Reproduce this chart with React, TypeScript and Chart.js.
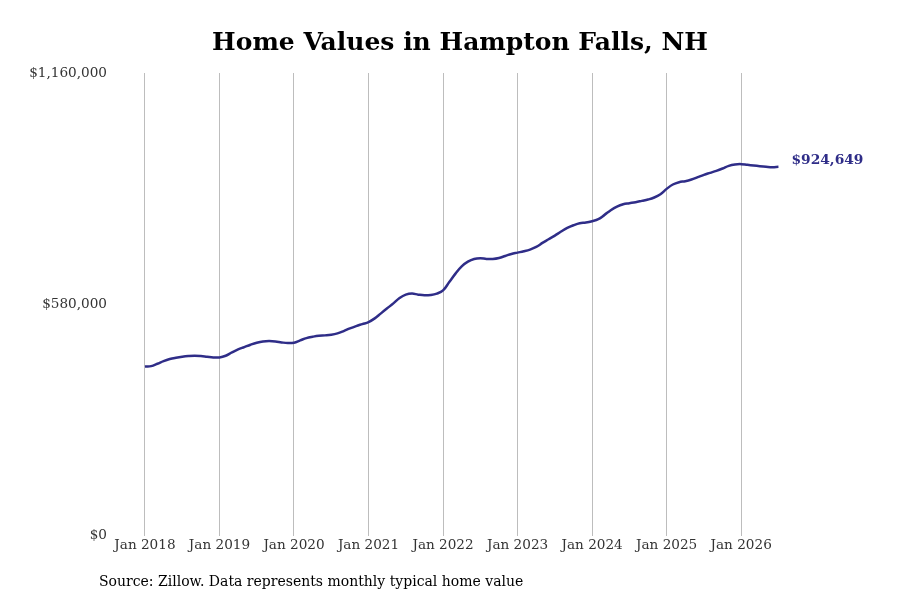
import React, { useEffect, useRef } from 'react';
import { Chart, registerables } from 'chart.js';

Chart.register(...registerables);

// monthly typical home value, Jan 2018 .. Jul 2026
const startYear = 2018;
const homeValues: number[] = [
  424300, 425100, 431000, 437700, 442800, 446100, 448600, 450300, 451100, 450300, 448600, 446900,
  446900, 451100, 459500, 467000, 472900, 478800, 483800, 487100, 487900, 487100, 484600, 482900,
  483800, 489600, 495400, 498800, 501300, 502200, 503800, 507200, 513000, 519700, 525500, 530500,
  535500, 544800, 557400, 570000, 582500, 595800, 604300, 606900, 604300, 602600, 603400, 606900,
  615000, 636000, 657000, 675400, 687100, 693800, 695500, 693800, 693800, 696300, 701300, 706400,
  709700, 713000, 717300, 723900, 734000, 743200, 752400, 762500, 771600, 778300, 783400, 785000,
  788400, 793400, 804300, 816000, 825200, 831100, 833600, 836100, 839400, 842800, 847900, 856200,
  869500, 880500, 886300, 888800, 893000, 898900, 904700, 909700, 914700, 920600, 927300, 930700,
  931500, 929800, 928200, 926500, 925000, 923800, 924649,
];
const yTickValues: number[] = [0, 580000, 1160000];
const xTickMonths: number[] = [0, 12, 24, 36, 48, 60, 72, 84, 96];

const lineColor = '#2f2d88';
const serif = "'DejaVu Serif', serif";

const fmt = (v: number) => '$' + Math.round(v).toLocaleString('en-US');

const extrasPlugin = {
  id: 'extras',
  afterDraw(chart: Chart) {
    const { ctx } = chart;
    const xs = chart.scales.x;
    const ys = chart.scales.y;
    const lastIdx = homeValues.length - 1;
    const last = homeValues[lastIdx];
    ctx.save();
    // title
    ctx.fillStyle = '#000';
    ctx.font = `bold 25px ${serif}`;
    ctx.textAlign = 'center';
    ctx.textBaseline = 'middle';
    ctx.fillText('Home Values in Hampton Falls, NH', 460, 43);
    // end label
    ctx.fillStyle = lineColor;
    ctx.font = `bold 13.8px ${serif}`;
    ctx.textAlign = 'left';
    ctx.fillText(fmt(last), xs.getPixelForValue(lastIdx) + 13, ys.getPixelForValue(last) - 6);
    // source note
    ctx.fillStyle = '#000';
    ctx.font = `14px ${serif}`;
    ctx.fillText('Source: Zillow. Data represents monthly typical home value', 99, 582);
    ctx.restore();
  },
};

export default function App() {
  const canvasRef = useRef<HTMLCanvasElement>(null);
  const chartRef = useRef<Chart | null>(null);

  useEffect(() => {
    if (!canvasRef.current) return;
    if (chartRef.current) chartRef.current.destroy();
    const ctx = canvasRef.current.getContext('2d');
    if (!ctx) return;

    chartRef.current = new Chart(ctx, {
      type: 'line',
      data: {
        datasets: [
          {
            label: 'Home value',
            data: homeValues.map((v, i) => ({ x: i, y: v })),
            borderColor: lineColor,
            borderWidth: 2.5,
            pointRadius: 0,
            tension: 0.4,
            fill: false,
          },
        ],
      },
      options: {
        animation: false,
        responsive: true,
        maintainAspectRatio: false,
        layout: { padding: { left: 0, top: 73, right: 100, bottom: 44 } },
        plugins: {
          legend: { display: false },
          tooltip: { enabled: false },
          title: { display: false },
        },
        scales: {
          x: {
            type: 'linear',
            min: -4.82,
            max: 105.47,
            afterBuildTicks: (axis: any) => {
              axis.ticks = xTickMonths.map((v) => ({ value: v }));
            },
            ticks: {
              color: '#333',
              font: { family: serif, size: 13.6 },
              padding: 2,
              maxRotation: 0,
              autoSkip: false,
              callback: (v: any) => 'Jan ' + (startYear + Math.round(Number(v) / 12)),
            },
            grid: { color: '#bdbdbd', lineWidth: 1, drawTicks: false },
            border: { display: false },
          },
          y: {
            min: 0,
            max: 1160000,
            afterBuildTicks: (axis: any) => {
              axis.ticks = yTickValues.map((v) => ({ value: v }));
            },
            afterFit: (axis: any) => {
              axis.width = 115;
            },
            ticks: {
              color: '#333',
              font: { family: serif, size: 13.6 },
              padding: 8,
              callback: (v: any) => fmt(Number(v)),
            },
            grid: { display: false, drawTicks: false },
            border: { display: false },
          },
        },
      },
      plugins: [extrasPlugin],
    });

    return () => {
      if (chartRef.current) {
        chartRef.current.destroy();
        chartRef.current = null;
      }
    };
  }, []);

  return (
    <div style={{ position: 'fixed', left: 0, top: 0, width: 900, height: 600, background: '#fff' }}>
      <canvas ref={canvasRef} />
    </div>
  );
}
